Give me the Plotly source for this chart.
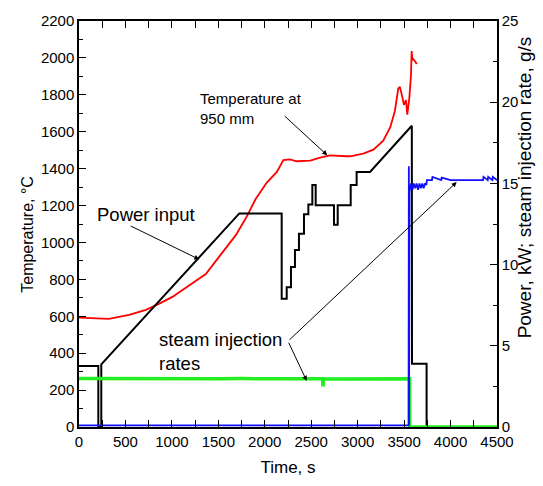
import plotly.graph_objects as go

# ---------------- data ----------------
# Power input, kW (right axis)
power_time = [0, 208, 208, 240, 240, 1726, 2182, 2182, 2236, 2236, 2282, 2282,
              2325, 2325, 2368, 2368, 2422, 2422, 2469, 2469, 2512, 2512, 2548,
              2548, 2745, 2745, 2785, 2785, 2925, 2925, 2989, 2989, 3133, 3583,
              3585, 3742, 3742, 4500]
power_kw = [3.75, 3.75, 0, 0, 3.86, 13.15, 13.15, 7.9, 7.9, 8.6, 8.6, 9.85,
            9.85, 10.9, 10.9, 11.9, 11.9, 13.1, 13.1, 13.7, 13.7, 14.9, 14.9,
            13.65, 13.65, 12.45, 12.45, 13.65, 13.65, 14.9, 14.9, 15.7, 15.7, 18.55,
            3.9, 3.9, 0, 0]

# Temperature at 950 mm, degC (left axis)
temp_time = [0, 150, 320, 540, 720, 860, 1005, 1185, 1365, 1520, 1690, 1800,
             1900, 2020, 2130, 2200, 2270, 2345, 2490, 2595, 2700, 2880, 2920,
             3060, 3170, 3275, 3350, 3400, 3437, 3455, 3470, 3484, 3498, 3520,
             3534, 3556, 3574, 3581, 3590, 3599, 3627, 3635]
temp_c = [593, 590, 586, 608, 635, 667, 705, 767, 829, 930, 1041, 1135,
          1234, 1323, 1382, 1446, 1450, 1440, 1443, 1460, 1472, 1467, 1467,
          1481, 1503, 1552, 1623, 1711, 1834, 1843, 1800, 1781, 1746, 1772,
          1693, 1781, 1905, 2037, 1990, 1993, 1975, 1966]

# Steam injection rate (green), g/s (right axis)
steam1_time = [0, 250, 500, 750, 1000, 1250, 1500, 1750, 2000, 2250, 2500,
               2622, 2627, 2632, 2750, 3000, 3250, 3500, 3558, 3560, 4500]
steam1_gs = [2.98, 2.97, 2.96, 2.98, 2.97, 2.96, 2.97, 2.98, 2.97, 2.96, 2.98,
             2.97, 2.5, 2.97, 2.96, 2.97, 2.98, 2.97, 2.97, 0, 0]

# Steam injection rate (blue), g/s (right axis)
steam2_time = [0, 3548, 3551, 3553, 3558, 3575, 3590, 3605, 3620, 3635, 3650,
               3665, 3680, 3695, 3710, 3725, 3740, 3745, 3800, 3805, 3900,
               3905, 4000, 4200, 4350, 4355, 4400, 4405, 4450, 4455, 4500]
steam2_gs = [0.1, 0.1, 16.05, 0.1, 14.5, 15.0, 14.6, 15.0, 14.7, 15.0, 14.6,
             15.0, 14.7, 15.0, 14.7, 15.0, 14.9, 15.2, 15.2, 15.4, 15.2,
             15.35, 15.2, 15.2, 15.2, 15.4, 15.2, 15.4, 15.2, 15.4, 15.2]

x_ticks = [0, 500, 1000, 1500, 2000, 2500, 3000, 3500, 4000, 4500]
y_left_ticks = list(range(0, 2201, 200))
y_right_ticks = [0, 5, 10, 15, 20, 25]

FONT = "Arial, Liberation Sans, sans-serif"

fig = go.Figure()
fig.add_trace(go.Scatter(x=power_time, y=power_kw, mode="lines", yaxis="y2",
                         line=dict(color="black", width=2)))
fig.add_trace(go.Scatter(x=steam1_time, y=steam1_gs, mode="lines", yaxis="y2",
                         line=dict(color="#22ee22", width=3.5)))
fig.add_trace(go.Scatter(x=steam2_time, y=steam2_gs, mode="lines", yaxis="y2",
                         line=dict(color="#1010ff", width=1.8)))
fig.add_trace(go.Scatter(x=temp_time, y=temp_c, mode="lines",
                         line=dict(color="#ff0000", width=1.8)))

axis_common = dict(showgrid=False, zeroline=False, showline=True,
                   linecolor="black", linewidth=1.5, ticks="inside",
                   tickcolor="black", tickwidth=1.2, ticklen=7,
                   tickfont=dict(family=FONT, size=15, color="black"))

fig.update_layout(
    width=543, height=486,
    margin=dict(l=79, r=46, t=14, b=56),
    paper_bgcolor="white", plot_bgcolor="white",
    showlegend=False,
    xaxis=dict(range=[0, 4500], tickvals=x_ticks, mirror="allticks",
               minor=dict(dtick=250, ticks="inside", ticklen=4,
                          tickcolor="black", tickwidth=1),
               title=dict(text="Time, s", font=dict(family=FONT, size=17, color="black"),
                          standoff=12),
               **axis_common),
    yaxis=dict(range=[0, 2200], tickvals=y_left_ticks,
               minor=dict(dtick=100, ticks="inside", ticklen=4,
                          tickcolor="black", tickwidth=1),
               **axis_common),
    yaxis2=dict(range=[0, 25], tickvals=y_right_ticks, overlaying="y", side="right",
                minor=dict(dtick=2.5, ticks="inside", ticklen=4,
                           tickcolor="black", tickwidth=1),
                **axis_common),
)

ann_font = dict(family=FONT, color="black")
annotations = [
    # y-axis titles
    dict(text="Temperature, °C", xref="paper", yref="paper", x=-0.147, y=0.4736,
         textangle=-90, showarrow=False, font=dict(size=16, **ann_font)),
    dict(text="Power, kW; steam injection rate, g/s", xref="paper", yref="paper",
         x=1.0957, y=0.589, textangle=-90, showarrow=False,
         font=dict(size=19, **ann_font)),
    # labels
    dict(text="Temperature at<br>950 mm", x=1281, y=1724, xref="x", yref="y",
         xanchor="left", yanchor="middle", align="left", showarrow=False,
         font=dict(size=15, **ann_font)),
    dict(text="Power input", x=172, y=1154, xref="x", yref="y",
         xanchor="left", yanchor="middle", showarrow=False,
         font=dict(size=18.5, **ann_font)),
    dict(text="steam injection<br>rates", x=840, y=410, xref="x", yref="y",
         xanchor="left", yanchor="middle", align="left", showarrow=False,
         font=dict(size=18.5, **ann_font)),
    # arrows
    dict(text="", x=2673, y=1472, ax=2199, ay=1692, xref="x", yref="y",
         axref="x", ayref="y", showarrow=True, arrowhead=2, arrowsize=1,
         arrowwidth=1, arrowcolor="black", standoff=0),
    dict(text="", x=1295, y=908, ax=541, ay=1093, xref="x", yref="y",
         axref="x", ayref="y", showarrow=True, arrowhead=2, arrowsize=1,
         arrowwidth=1, arrowcolor="black", standoff=0),
    dict(text="", x=2451, y=250, ax=2250, ay=465, xref="x", yref="y",
         axref="x", ayref="y", showarrow=True, arrowhead=2, arrowsize=1,
         arrowwidth=1, arrowcolor="black", standoff=0),
    dict(text="", x=4066, y=1327, ax=2250, ay=465, xref="x", yref="y",
         axref="x", ayref="y", showarrow=True, arrowhead=2, arrowsize=1,
         arrowwidth=1, arrowcolor="black", standoff=0),
]
fig.update_layout(annotations=annotations)

# remove the browser's default 8px page margin so the figure sits at (0, 0)
fig.write_html("out.html", config={"displayModeBar": False},
               post_script="document.body.style.margin='0';document.body.style.overflow='hidden';")
